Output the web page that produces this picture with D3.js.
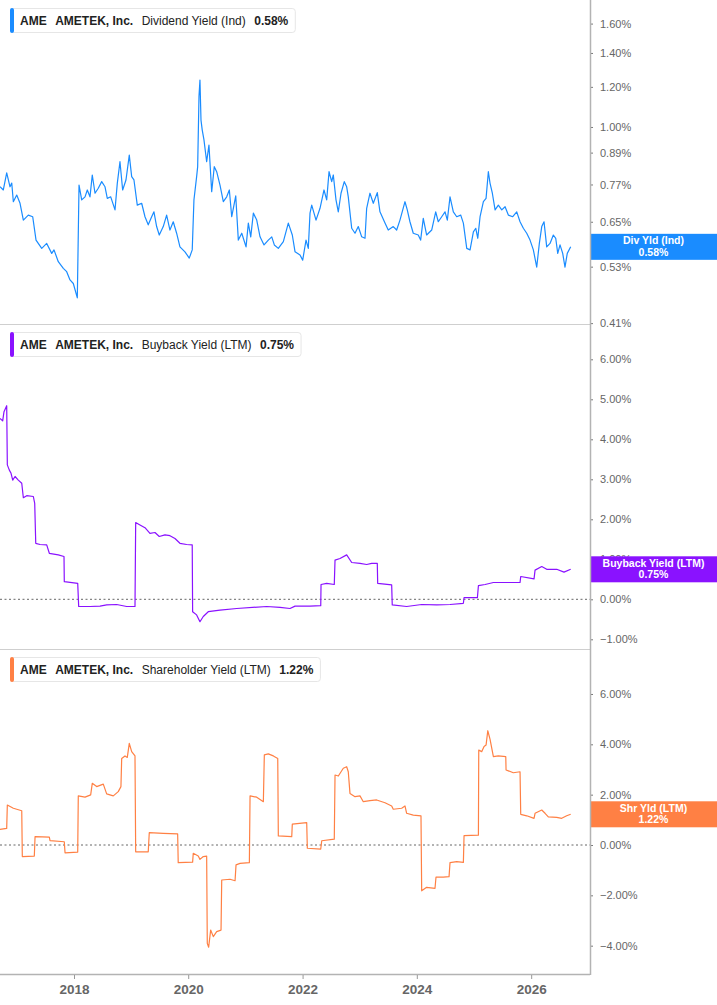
<!DOCTYPE html>
<html>
<head>
<meta charset="utf-8">
<script src="https://cdn.jsdelivr.net/npm/d3@7"></script>
<style>
  body { margin: 0; background: #fff; }
  svg { display: block; font-family: "Liberation Sans", Arial, sans-serif; }
</style>
</head>
<body>
<div id="chart"></div>
<script>
// Values, [decimal year, percent]
const divYield = [
  [2016.705, 0.762], [2016.763, 0.751], [2016.822, 0.812], [2016.880, 0.762], [2016.910, 0.775],
  [2016.938, 0.712], [2016.997, 0.734], [2017.055, 0.707], [2017.113, 0.655], [2017.200, 0.670],
  [2017.277, 0.665], [2017.335, 0.598], [2017.435, 0.576], [2017.522, 0.589], [2017.610, 0.563],
  [2017.650, 0.572], [2017.725, 0.542], [2017.813, 0.526], [2017.872, 0.518], [2017.930, 0.499],
  [2017.988, 0.491], [2018.058, 0.460], [2018.088, 0.768], [2018.135, 0.718], [2018.193, 0.728],
  [2018.233, 0.751], [2018.280, 0.728], [2018.320, 0.804], [2018.368, 0.740], [2018.425, 0.757],
  [2018.485, 0.780], [2018.543, 0.762], [2018.583, 0.723], [2018.643, 0.728], [2018.718, 0.686],
  [2018.758, 0.774], [2018.805, 0.854], [2018.852, 0.751], [2018.910, 0.786], [2018.968, 0.880],
  [2019.010, 0.798], [2019.050, 0.786], [2019.108, 0.701], [2019.185, 0.707], [2019.243, 0.665],
  [2019.300, 0.641], [2019.360, 0.665], [2019.400, 0.680], [2019.447, 0.636], [2019.493, 0.612],
  [2019.563, 0.636], [2019.622, 0.670], [2019.680, 0.626], [2019.738, 0.650], [2019.797, 0.617],
  [2019.855, 0.580], [2019.943, 0.567], [2020.018, 0.551], [2020.070, 0.572], [2020.100, 0.718],
  [2020.147, 0.798], [2020.165, 0.835], [2020.188, 1.148], [2020.205, 1.238], [2020.223, 1.032],
  [2020.245, 0.986], [2020.275, 0.943], [2020.322, 0.854], [2020.362, 0.921], [2020.410, 0.745],
  [2020.455, 0.835], [2020.497, 0.816], [2020.555, 0.768], [2020.613, 0.712], [2020.672, 0.728],
  [2020.718, 0.751], [2020.760, 0.665], [2020.830, 0.731], [2020.875, 0.598], [2020.935, 0.617],
  [2021.010, 0.580], [2021.050, 0.646], [2021.092, 0.607], [2021.138, 0.676], [2021.197, 0.655],
  [2021.255, 0.607], [2021.325, 0.585], [2021.400, 0.598], [2021.460, 0.607], [2021.505, 0.585],
  [2021.575, 0.576], [2021.663, 0.594], [2021.750, 0.646], [2021.820, 0.612], [2021.868, 0.567],
  [2021.955, 0.559], [2022.002, 0.546], [2022.060, 0.598], [2022.100, 0.576], [2022.130, 0.676],
  [2022.160, 0.701], [2022.235, 0.655], [2022.305, 0.691], [2022.375, 0.751], [2022.422, 0.718],
  [2022.463, 0.816], [2022.510, 0.780], [2022.538, 0.804], [2022.585, 0.718], [2022.625, 0.680],
  [2022.673, 0.740], [2022.730, 0.780], [2022.772, 0.762], [2022.800, 0.728], [2022.860, 0.631],
  [2022.918, 0.617], [2022.975, 0.636], [2023.035, 0.607], [2023.093, 0.603], [2023.122, 0.691],
  [2023.180, 0.740], [2023.238, 0.707], [2023.308, 0.742], [2023.355, 0.680], [2023.443, 0.646],
  [2023.500, 0.626], [2023.588, 0.636], [2023.647, 0.626], [2023.705, 0.655], [2023.793, 0.712],
  [2023.833, 0.686], [2023.880, 0.650], [2023.938, 0.617], [2024.025, 0.612], [2024.067, 0.598],
  [2024.113, 0.660], [2024.172, 0.612], [2024.260, 0.626], [2024.330, 0.680], [2024.375, 0.650],
  [2024.435, 0.665], [2024.493, 0.680], [2024.533, 0.655], [2024.580, 0.728], [2024.638, 0.680],
  [2024.697, 0.665], [2024.767, 0.670], [2024.813, 0.646], [2024.872, 0.576], [2024.930, 0.572],
  [2024.988, 0.621], [2025.030, 0.631], [2025.065, 0.603], [2025.105, 0.665], [2025.163, 0.712],
  [2025.210, 0.723], [2025.250, 0.816], [2025.280, 0.774], [2025.320, 0.740], [2025.368, 0.686],
  [2025.425, 0.701], [2025.485, 0.686], [2025.543, 0.696], [2025.600, 0.670], [2025.677, 0.665],
  [2025.747, 0.680], [2025.805, 0.650], [2025.863, 0.631], [2025.922, 0.617], [2025.980, 0.598],
  [2026.038, 0.572], [2026.097, 0.529], [2026.143, 0.589], [2026.185, 0.636], [2026.225, 0.650],
  [2026.272, 0.580], [2026.330, 0.589], [2026.388, 0.612], [2026.430, 0.603], [2026.465, 0.563],
  [2026.505, 0.585], [2026.552, 0.563], [2026.592, 0.529], [2026.632, 0.563], [2026.692, 0.580]
];

const buybackYield = [
  [2016.705, 4.52], [2016.752, 4.46], [2016.775, 4.69], [2016.822, 4.84], [2016.833, 3.36],
  [2016.868, 3.23], [2016.898, 3.15], [2016.927, 2.98], [2016.968, 3.07], [2017.025, 2.98],
  [2017.085, 2.90], [2017.113, 2.54], [2017.172, 2.59], [2017.288, 2.57], [2017.312, 2.40],
  [2017.330, 1.40], [2017.405, 1.37], [2017.522, 1.36], [2017.568, 1.15], [2017.725, 1.11],
  [2017.825, 1.07], [2017.830, 0.44], [2018.065, 0.40], [2018.082, -0.18], [2018.280, -0.18],
  [2018.455, -0.17], [2018.572, -0.14], [2018.747, -0.13], [2018.922, -0.18], [2019.068, -0.18],
  [2019.080, 1.92], [2019.155, 1.86], [2019.243, 1.79], [2019.330, 1.65], [2019.418, 1.67],
  [2019.493, 1.57], [2019.593, 1.61], [2019.680, 1.59], [2019.768, 1.52], [2019.855, 1.40],
  [2019.972, 1.37], [2020.070, 1.36], [2020.077, -0.31], [2020.147, -0.39], [2020.205, -0.56],
  [2020.263, -0.43], [2020.350, -0.31], [2020.555, -0.27], [2020.847, -0.23], [2021.372, -0.18],
  [2021.605, -0.20], [2021.780, -0.23], [2021.868, -0.17], [2022.130, -0.17], [2022.318, -0.16],
  [2022.323, 0.37], [2022.422, 0.40], [2022.555, 0.37], [2022.568, 0.98], [2022.655, 1.02],
  [2022.772, 1.11], [2022.860, 0.92], [2023.005, 0.90], [2023.122, 0.87], [2023.210, 0.90],
  [2023.308, 0.90], [2023.315, 0.40], [2023.560, 0.36], [2023.570, -0.14], [2023.822, -0.18],
  [2024.085, -0.13], [2024.348, -0.14], [2024.580, -0.13], [2024.813, -0.10], [2024.825, 0.04],
  [2025.058, 0.04], [2025.076, 0.34], [2025.193, 0.37], [2025.338, 0.42], [2025.572, 0.42],
  [2025.805, 0.42], [2025.817, 0.57], [2026.050, 0.51], [2026.068, 0.73], [2026.185, 0.82],
  [2026.272, 0.75], [2026.447, 0.75], [2026.575, 0.68], [2026.692, 0.75]
];

const shareholderYield = [
  [2016.705, 0.62], [2016.822, 0.66], [2016.833, 1.59], [2016.938, 1.46], [2017.085, 1.36],
  [2017.095, -0.46], [2017.305, -0.44], [2017.318, 0.33], [2017.568, 0.31], [2017.580, 0.17],
  [2017.830, 0.13], [2017.843, -0.31], [2018.065, -0.28], [2018.075, 1.95], [2018.193, 1.90],
  [2018.292, 1.99], [2018.320, 2.45], [2018.397, 2.32], [2018.513, 2.42], [2018.572, 2.03],
  [2018.688, 1.95], [2018.775, 2.12], [2018.822, 2.32], [2018.835, 3.44], [2018.893, 3.54],
  [2018.933, 3.48], [2018.968, 4.04], [2019.010, 3.71], [2019.068, 3.54], [2019.080, -0.27],
  [2019.300, -0.27], [2019.318, 0.49], [2019.563, 0.46], [2019.815, 0.44], [2019.825, -0.70],
  [2020.077, -0.68], [2020.088, -0.33], [2020.175, -0.44], [2020.205, -0.57], [2020.263, -0.46],
  [2020.322, -0.44], [2020.333, -3.91], [2020.357, -4.06], [2020.392, -3.38], [2020.438, -3.64],
  [2020.497, -3.44], [2020.573, -3.38], [2020.585, -1.39], [2020.730, -1.36], [2020.818, -1.42],
  [2020.835, -0.79], [2020.905, -0.73], [2021.068, -0.70], [2021.080, 1.95], [2021.197, 1.90],
  [2021.313, 1.72], [2021.330, 3.58], [2021.400, 3.62], [2021.488, 3.54], [2021.565, 3.44],
  [2021.575, 0.36], [2021.810, 0.33], [2021.820, 0.83], [2022.072, 0.89], [2022.083, -0.13],
  [2022.318, -0.16], [2022.335, 0.17], [2022.555, 0.23], [2022.568, 2.78], [2022.626, 2.74],
  [2022.713, 3.05], [2022.772, 3.11], [2022.800, 2.91], [2022.830, 2.05], [2022.918, 1.92],
  [2023.005, 1.95], [2023.063, 1.72], [2023.180, 1.76], [2023.297, 1.79], [2023.443, 1.68],
  [2023.560, 1.55], [2023.588, 1.42], [2023.735, 1.46], [2023.793, 1.55], [2023.822, 1.26],
  [2023.938, 1.19], [2024.073, 1.16], [2024.085, -1.82], [2024.172, -1.68], [2024.318, -1.72],
  [2024.335, -1.28], [2024.463, -1.28], [2024.563, -1.26], [2024.580, -0.70], [2024.697, -0.66],
  [2024.813, -0.69], [2024.825, 0.37], [2025.076, 0.39], [2025.082, 3.77], [2025.135, 3.71],
  [2025.175, 3.91], [2025.210, 3.97], [2025.240, 4.54], [2025.280, 4.20], [2025.338, 3.51],
  [2025.425, 3.54], [2025.555, 3.51], [2025.560, 2.98], [2025.688, 2.87], [2025.805, 2.91],
  [2025.817, 1.22], [2025.922, 1.16], [2026.050, 1.06], [2026.068, 1.26], [2026.185, 1.39],
  [2026.243, 1.26], [2026.300, 1.12], [2026.447, 1.10], [2026.535, 1.06], [2026.622, 1.16],
  [2026.692, 1.22]
];

// Axis ticks
const divTicks = [0.41, 0.53, 0.65, 0.77, 0.89, 1.0, 1.2, 1.4, 1.6];
const buybackTicks = [-1, 0, 1, 2, 3, 4, 5, 6];
const shareholderTicks = [-4, -2, 0, 2, 4, 6];
const xStart = 2016.705;
const xEnd = 2027.03;

// Labels
const ticker = "AME";
const company = "AMETEK, Inc.";
const metricNames = ["Dividend Yield (Ind)", "Buyback Yield (LTM)", "Shareholder Yield (LTM)"];
const shortNames = ["Div Yld (Ind)", "Buyback Yield (LTM)", "Shr Yld (LTM)"];

// Dimensions
const width = 717;
const height = 1005;
const plotRight = 590;
const panelTops = [0, 324, 649];
const panelBottoms = [324, 649, 974];

// Format
const fmtPct = (d) => d3.format(".2f")(d) + "%";

// Style
const colors = ["#1a8cff", "#8a12ff", "#ff8044"];
const axisColor = "#b3b3b3";
const textColor = "#666";

function toDate(y) {
  const yr = Math.floor(y);
  const start = Date.UTC(yr, 0, 1);
  const end = Date.UTC(yr + 1, 0, 1);
  return new Date(start + (y - yr) * (end - start));
}

const x = d3.scaleUtc([toDate(xStart), toDate(xEnd)], [0, plotRight]);

const panels = [
  {
    data: divYield,
    y: d3.scaleLog([0.4084, 1.781], [panelBottoms[0], panelTops[0]]),
    ticks: divTicks,
    zeroLine: false,
  },
  {
    data: buybackYield,
    y: d3.scaleLinear([-1.2425, 6.8825], [panelBottoms[1], panelTops[1]]),
    ticks: buybackTicks,
    zeroLine: true,
  },
  {
    data: shareholderYield,
    y: d3.scaleLinear([-5.125, 7.787], [panelBottoms[2], panelTops[2]]),
    ticks: shareholderTicks,
    zeroLine: true,
  },
];

const svg = d3
  .select("#chart")
  .append("svg")
  .attr("width", width)
  .attr("height", height)
  .attr("viewBox", [0, 0, width, height]);

panels.forEach((p, i) => {
  const g = svg.append("g");
  const color = colors[i];

  // Separator / bottom line
  g.append("line")
    .attr("x1", 0)
    .attr("x2", plotRight)
    .attr("y1", panelBottoms[i] + 0.5)
    .attr("y2", panelBottoms[i] + 0.5)
    .attr("stroke", i === 2 ? axisColor : "#cfcfcf")
    .attr("stroke-width", i === 2 ? 1.5 : 1);

  // Zero line
  if (p.zeroLine) {
    g.append("line")
      .attr("x1", 0)
      .attr("x2", plotRight)
      .attr("y1", p.y(0))
      .attr("y2", p.y(0))
      .attr("stroke", "#666")
      .attr("stroke-width", 1)
      .attr("stroke-dasharray", "2,2.5");
  }

  // Right axis
  const axis = g
    .append("g")
    .attr("transform", `translate(${plotRight},0)`)
    .call(
      d3
        .axisRight(p.y)
        .tickValues(p.ticks)
        .tickSize(3)
        .tickPadding(7)
        .tickFormat(fmtPct)
    );
  axis.select(".domain").remove();
  axis.selectAll(".tick line").attr("stroke", "#777");
  axis
    .selectAll(".tick text")
    .attr("fill", textColor)
    .style("font-size", "11px")
    .style("font-family", "'Liberation Sans', Arial, sans-serif");

  // Series line
  g.append("path")
    .datum(p.data)
    .attr("fill", "none")
    .attr("stroke", color)
    .attr("stroke-width", 1.2)
    .attr("stroke-linejoin", "round")
    .attr(
      "d",
      d3
        .line()
        .x((d) => x(toDate(d[0])))
        .y((d) => p.y(d[1]))
    );

  // Last value tag
  const last = p.data[p.data.length - 1];
  const ly = p.y(last[1]);
  const tagX = plotRight + (width - plotRight) / 2;
  g.append("rect")
    .attr("x", plotRight)
    .attr("y", ly - 13)
    .attr("width", width - plotRight)
    .attr("height", 26)
    .attr("fill", color);
  [shortNames[i], fmtPct(last[1])].forEach((line, k) => {
    g.append("text")
      .attr("x", tagX)
      .attr("y", ly - 2.5 + k * 11.5)
      .attr("text-anchor", "middle")
      .attr("fill", "#fff")
      .style("font-size", "10.5px")
      .style("font-weight", "700")
      .text(line);
  });

  // Legend
  const top = panelTops[i];
  const legend = g.append("g");
  const box = legend
    .append("rect")
    .attr("x", 10.5)
    .attr("y", top + 8.5)
    .attr("height", 24)
    .attr("rx", 3)
    .attr("fill", "#fff")
    .attr("stroke", "#e6e6e6");
  legend
    .append("rect")
    .attr("x", 10)
    .attr("y", top + 8)
    .attr("width", 4)
    .attr("height", 25)
    .attr("rx", 2)
    .attr("fill", color);
  const parts = [
    { text: ticker, bold: true },
    { text: company, bold: true },
    { text: metricNames[i], bold: false },
    { text: fmtPct(last[1]), bold: true },
  ];
  let cx = 20;
  parts.forEach((part) => {
    const t = legend
      .append("text")
      .attr("x", cx)
      .attr("y", top + 25)
      .attr("fill", "#222")
      .style("font-size", "12px")
      .style("font-weight", part.bold ? "700" : "400")
      .text(part.text);
    cx += t.node().getComputedTextLength() + 8.5;
  });
  box.attr("width", cx - 8.5 + 7 - 10.5);
});

// Right vertical axis line
svg
  .append("line")
  .attr("x1", plotRight + 0.5)
  .attr("x2", plotRight + 0.5)
  .attr("y1", 0)
  .attr("y2", panelBottoms[2] + 1)
  .attr("stroke", axisColor)
  .attr("stroke-width", 1.5);

// Bottom time axis
const xAxis = svg
  .append("g")
  .attr("transform", `translate(0,${panelBottoms[2] + 1})`)
  .call(
    d3
      .axisBottom(x)
      .ticks(d3.utcYear.every(2))
      .tickFormat(d3.utcFormat("%Y"))
      .tickSize(4)
      .tickPadding(5)
  );
xAxis.select(".domain").remove();
xAxis.selectAll(".tick line").attr("stroke", "#999");
xAxis
  .selectAll(".tick text")
  .attr("fill", textColor)
  .style("font-size", "13.5px")
  .style("font-weight", "700")
  .style("font-family", "'Liberation Sans', Arial, sans-serif");
</script>
</body>
</html>
